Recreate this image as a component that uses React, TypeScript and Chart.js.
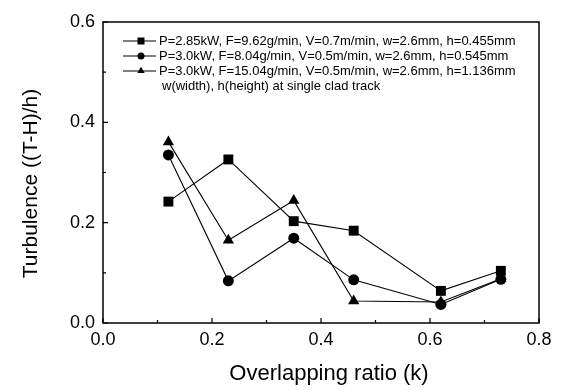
import { useEffect, useRef } from 'react';
import { Chart, registerables } from 'chart.js';

Chart.register(...registerables);

const overlapRatio = [0.12, 0.23, 0.35, 0.46, 0.62, 0.73];
const seriesLabels = [
  'P=2.85kW, F=9.62g/min, V=0.7m/min, w=2.6mm, h=0.455mm',
  'P=3.0kW, F=8.04g/min, V=0.5m/min, w=2.6mm, h=0.545mm',
  'P=3.0kW, F=15.04g/min, V=0.5m/min, w=2.6mm, h=1.136mm',
];
const squareValues = [0.242, 0.326, 0.203, 0.184, 0.064, 0.104];
const circleValues = [0.335, 0.084, 0.169, 0.086, 0.037, 0.087];
const triangleValues = [0.361, 0.165, 0.244, 0.044, 0.042, 0.088];
const seriesStyles = ['rect', 'circle', 'triangle'];
const noteText = 'w(width), h(height) at single clad track';
const xTitle = 'Overlapping ratio (k)';
const yTitle = 'Turbulence ((T-H)/h)';

const FONT = '"Liberation Sans", Arial, sans-serif';

function drawMarker(ctx: CanvasRenderingContext2D, style: string, x: number, y: number, s: number) {
  ctx.beginPath();
  if (style === 'rect') {
    ctx.rect(x - s / 2, y - s / 2, s, s);
  } else if (style === 'circle') {
    ctx.arc(x, y, s / 2, 0, Math.PI * 2);
  } else {
    const r = s * 0.6;
    ctx.moveTo(x, y - r);
    ctx.lineTo(x + r * 0.87, y + r * 0.5);
    ctx.lineTo(x - r * 0.87, y + r * 0.5);
    ctx.closePath();
  }
  ctx.fill();
}

const framePlugin = {
  id: 'frameAndLegend',
  afterDraw(chart: any) {
    const ctx: CanvasRenderingContext2D = chart.ctx;
    const { left, top, right, bottom } = chart.chartArea;
    ctx.save();
    ctx.strokeStyle = '#000';
    ctx.fillStyle = '#000';
    ctx.lineWidth = 1.5;
    ctx.strokeRect(left, top, right - left, bottom - top);

    // inward ticks
    ctx.lineWidth = 1.2;
    const xs = chart.scales.x;
    const ys = chart.scales.y;
    const xt = xs.ticks.map((t: any) => t.value);
    const yt = ys.ticks.map((t: any) => t.value);
    ctx.beginPath();
    xt.forEach((v: number, i: number) => {
      const px = xs.getPixelForValue(v);
      ctx.moveTo(px, bottom);
      ctx.lineTo(px, bottom - 5);
      if (i < xt.length - 1) {
        const mx = xs.getPixelForValue((v + xt[i + 1]) / 2);
        ctx.moveTo(mx, bottom);
        ctx.lineTo(mx, bottom - 3);
      }
    });
    yt.forEach((v: number, i: number) => {
      const py = ys.getPixelForValue(v);
      ctx.moveTo(left, py);
      ctx.lineTo(left + 5, py);
      if (i < yt.length - 1) {
        const my = ys.getPixelForValue((v + yt[i + 1]) / 2);
        ctx.moveTo(left, my);
        ctx.lineTo(left + 3, my);
      }
    });
    ctx.stroke();

    // axis titles
    ctx.textAlign = 'center';
    ctx.textBaseline = 'middle';
    ctx.font = `22px ${FONT}`;
    ctx.fillText(xTitle, (left + right) / 2 + 8, bottom + 51);
    ctx.save();
    ctx.translate(31, (top + bottom) / 2 + 11);
    ctx.rotate(-Math.PI / 2);
    ctx.font = `21px ${FONT}`;
    ctx.fillText(yTitle, 0, 0);
    ctx.restore();

    // legend
    ctx.font = `13px ${FONT}`;
    ctx.textBaseline = 'middle';
    ctx.textAlign = 'left';
    chart.data.datasets.forEach((ds: any, i: number) => {
      const y = top + 19 + i * 15;
      ctx.lineWidth = 1;
      ctx.beginPath();
      ctx.moveTo(left + 20, y);
      ctx.lineTo(left + 53, y);
      ctx.stroke();
      drawMarker(ctx, ds.pointStyle, left + 38, y, 7);
      ctx.fillText(ds.label, left + 56, y);
    });
    ctx.fillText(noteText, left + 59, top + 19 + 3 * 15);
    ctx.restore();
  },
};

export default function App() {
  const ref = useRef<HTMLCanvasElement>(null);
  useEffect(() => {
    if (!ref.current) return;
    const values = [squareValues, circleValues, triangleValues];
    const radii = [7, 5.5, 6.5];
    const chart = new Chart(ref.current, {
      type: 'line',
      data: {
        datasets: values.map((vals, i) => ({
          label: seriesLabels[i],
          data: overlapRatio.map((x, j) => ({ x, y: vals[j] })),
          borderColor: '#000',
          backgroundColor: '#000',
          borderWidth: 1.1,
          pointStyle: seriesStyles[i] as any,
          pointRadius: radii[i],
          pointBackgroundColor: '#000',
          pointBorderColor: '#000',
          pointBorderWidth: 0,
          tension: 0,
          fill: false,
        })),
      },
      options: {
        animation: false,
        responsive: false,
        devicePixelRatio: 1,
        layout: { padding: { left: 0, top: 22, right: 22, bottom: 0 } },
        plugins: { legend: { display: false }, tooltip: { enabled: false } },
        scales: {
          x: {
            type: 'linear',
            min: 0,
            max: 0.8,
            ticks: {
              stepSize: 0.2,
              color: '#000',
              font: { family: FONT, size: 18 },
              padding: 6,
              maxRotation: 0,
              callback: (v: any) => Number(v).toFixed(1),
            },
            grid: { display: false, drawTicks: false },
            border: { display: false },
            title: { display: false },
            afterFit: (s: any) => { s.height = 67; },
          },
          y: {
            type: 'linear',
            min: 0,
            max: 0.6,
            ticks: {
              stepSize: 0.2,
              color: '#000',
              font: { family: FONT, size: 18 },
              padding: 8,
              callback: (v: any) => Number(v).toFixed(1),
            },
            grid: { display: false, drawTicks: false },
            border: { display: false },
            title: { display: false },
            afterFit: (s: any) => { s.width = 103; },
          },
        },
      },
      plugins: [framePlugin],
    });
    return () => chart.destroy();
  }, []);
  return (
    <div style={{ position: 'fixed', left: 0, top: 0, width: 561, height: 390, background: '#fff' }}>
      <canvas ref={ref} width={561} height={390} style={{ width: 561, height: 390 }} />
    </div>
  );
}
